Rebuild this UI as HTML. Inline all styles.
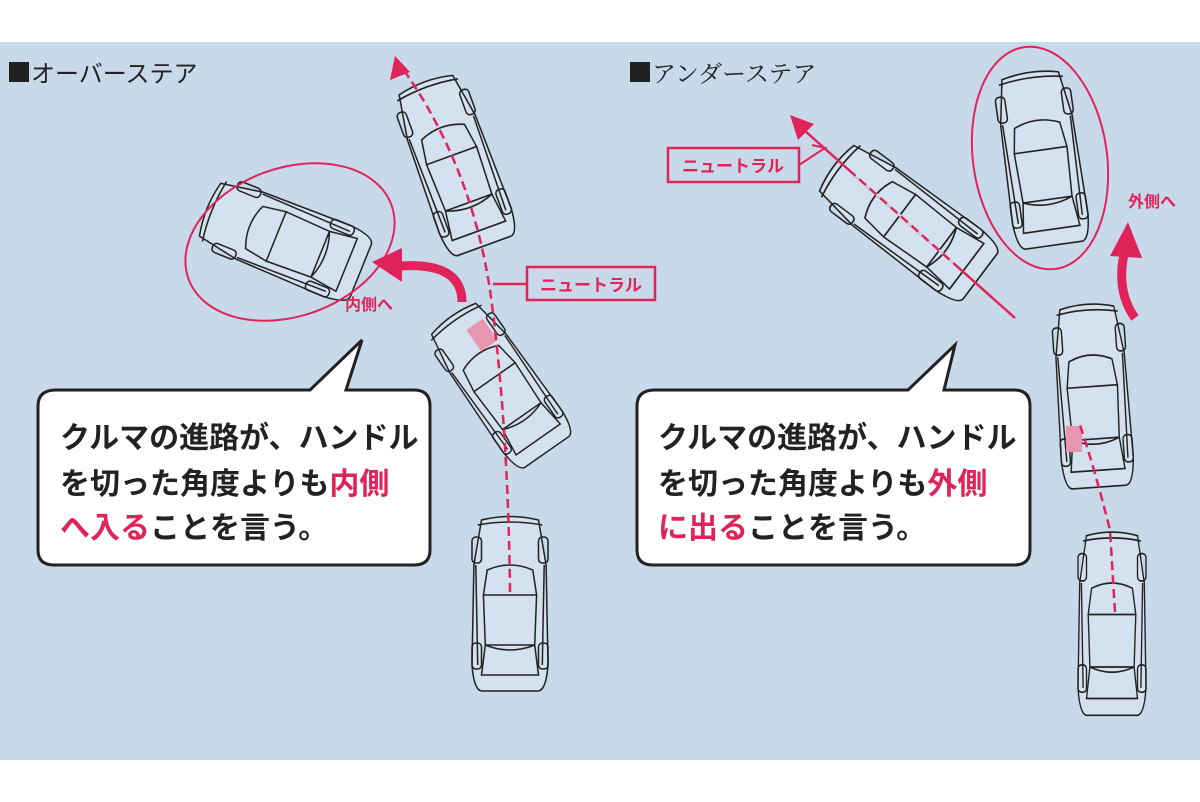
<!DOCTYPE html>
<html><head><meta charset="utf-8"><style>
html,body{margin:0;padding:0;background:#fff;}
body{width:1200px;height:802px;position:relative;overflow:hidden;}
.bg{position:absolute;left:0;top:42px;width:1200px;height:718px;background:#c8d9ea;}
svg{position:absolute;left:0;top:0;}
.t{font-family:"Liberation Sans","Noto Sans CJK JP",sans-serif;}
</style></head><body>
<div class="bg"></div>
<svg width="1200" height="802" viewBox="0 0 1200 802">
<defs>
<g id="car" fill="none" stroke="#222" stroke-width="1.6">
 <path d="M-30,-85 Q0,-92 30,-85 L38,-40 L40,60 Q38,85 30,86 L-30,86 Q-38,85 -40,60 L-38,-40 Z" fill="#d4e1ee"/>
 <path d="M-34,-80 Q0,-86 34,-80"/>
 <path d="M-24,-35 Q0,-45 24,-35 L28,-10 L-28,-10 Z"/>
 <path d="M-28,-10 L-26,40 L26,40 L28,-10"/>
 <path d="M-26,40 Q0,50 26,40 L30,70 L-30,70 Z"/>
 <rect x="-40" y="-68" width="10" height="26" rx="4"/>
 <rect x="30" y="-68" width="10" height="26" rx="4"/>
 <rect x="-40" y="38" width="10" height="26" rx="4"/>
 <rect x="30" y="38" width="10" height="26" rx="4"/>
 <line x1="-36" y1="-40" x2="-34" y2="60"/>
 <line x1="36" y1="-40" x2="34" y2="60"/>
</g>
</defs>

<!-- titles -->
<rect x="9" y="62" width="20" height="20" fill="#222"/>
<text x="31" y="82" class="t" font-family="Liberation Serif,Noto Serif CJK SC,serif" font-size="24" fill="#222">オーバーステア</text>
<rect x="630" y="62" width="20" height="20" fill="#222"/>
<text x="652" y="82" font-family="Liberation Serif,Noto Serif CJK SC,serif" font-size="24" fill="#222">アンダーステア</text>

<!-- LEFT PANEL -->
<use href="#car" transform="translate(455,165) rotate(-20) scale(0.95,1)"/>
<use href="#car" transform="translate(285,240) rotate(-68) scale(0.95,0.95)"/>
<ellipse cx="290" cy="242" rx="108" ry="74" transform="rotate(-20 290 242)" fill="none" stroke="#e0245a" stroke-width="2"/>
<use href="#car" transform="translate(500,385) rotate(-35) scale(0.9,0.95)"/>
<rect x="472" y="322" width="20" height="26" transform="rotate(-35 482 335)" fill="#e896b0"/>
<use href="#car" transform="translate(510,605) scale(0.95,1)"/>
<path d="M510,592 Q508,420 490,290 Q470,160 398,62" fill="none" stroke="#e0245a" stroke-width="2.5" stroke-dasharray="9,5"/>
<polygon points="395,56 390,80 410,72" fill="#e0245a"/>
<rect x="527" y="267" width="128" height="33" fill="none" stroke="#e0245a" stroke-width="2.5"/>
<text x="591" y="291" text-anchor="middle" class="t" font-size="17" font-weight="bold" fill="#e0245a">ニュートラル</text>
<line x1="527" y1="284" x2="493" y2="284" stroke="#e0245a" stroke-width="2.5"/>
<path d="M462,302 Q462,262 400,266" fill="none" stroke="#e0245a" stroke-width="9"/>
<polygon points="372,262 402,248 402,282" fill="#e0245a"/>
<text x="345" y="310" class="t" font-size="16" font-weight="bold" fill="#e0245a">内側へ</text>

<path d="M56,390 L310,390 L362,340 L346,390 L414,390 Q430,390 430,406 L430,550 Q430,565 414,565 L54,565 Q38,565 38,550 L38,406 Q38,390 56,390 Z" fill="#fff" stroke="#222" stroke-width="3"/>
<text class="t" font-size="30" font-weight="bold" fill="#222">
<tspan x="60" y="448">クルマの進路が、ハンドル</tspan>
<tspan x="60" y="494">を切った角度よりも<tspan fill="#e0245a">内側</tspan></tspan>
<tspan x="60" y="538"><tspan fill="#e0245a">へ入る</tspan>ことを言う。</tspan>
</text>

<!-- RIGHT PANEL -->
<use href="#car" transform="translate(1042,160) rotate(-8) scale(0.95,1)"/>
<ellipse cx="1040" cy="158" rx="67" ry="112" transform="rotate(-8 1040 158)" fill="none" stroke="#e0245a" stroke-width="2"/>
<use href="#car" transform="translate(908,222) rotate(-53) scale(0.95,1.05)"/>
<line x1="1015" y1="318" x2="795" y2="122" stroke="#e0245a" stroke-width="2.5"/>
<line x1="960" y1="269" x2="855" y2="175" stroke="#c8d9ea" stroke-width="2.5" stroke-dasharray="0,9,5,0"/>
<polygon points="790,115 798,140 814,124" fill="#e0245a"/>
<rect x="668" y="148" width="131" height="34" fill="none" stroke="#e0245a" stroke-width="2.5"/>
<text x="733" y="172" text-anchor="middle" class="t" font-size="17" font-weight="bold" fill="#e0245a">ニュートラル</text>
<polyline points="799,165 825,148 812,145" fill="none" stroke="#e0245a" stroke-width="2"/>
<use href="#car" transform="translate(1093,397) rotate(-4) scale(0.9,1.05)"/>
<rect x="1066" y="426" width="16" height="26" fill="#e896b0"/>
<use href="#car" transform="translate(1112,625) scale(0.85,1.05)"/>
<path d="M1115,612 L1110,530 Q1095,470 1080,425" fill="none" stroke="#e0245a" stroke-width="2.5" stroke-dasharray="9,5"/>
<path d="M1135,318 Q1115,290 1125,250" fill="none" stroke="#e0245a" stroke-width="9"/>
<polygon points="1128,222 1110,256 1142,258" fill="#e0245a"/>
<text x="1128" y="207" class="t" font-size="16" font-weight="bold" fill="#e0245a">外側へ</text>

<path d="M655,390 L908,390 L955,345 L944,390 L1014,390 Q1030,390 1030,406 L1030,550 Q1030,565 1014,565 L653,565 Q637,565 637,550 L637,406 Q637,390 655,390 Z" fill="#fff" stroke="#222" stroke-width="3"/>
<text class="t" font-size="30" font-weight="bold" fill="#222">
<tspan x="658" y="448">クルマの進路が、ハンドル</tspan>
<tspan x="658" y="494">を切った角度よりも<tspan fill="#e0245a">外側</tspan></tspan>
<tspan x="658" y="538"><tspan fill="#e0245a">に出る</tspan>ことを言う。</tspan>
</text>
</svg>
</body></html>
